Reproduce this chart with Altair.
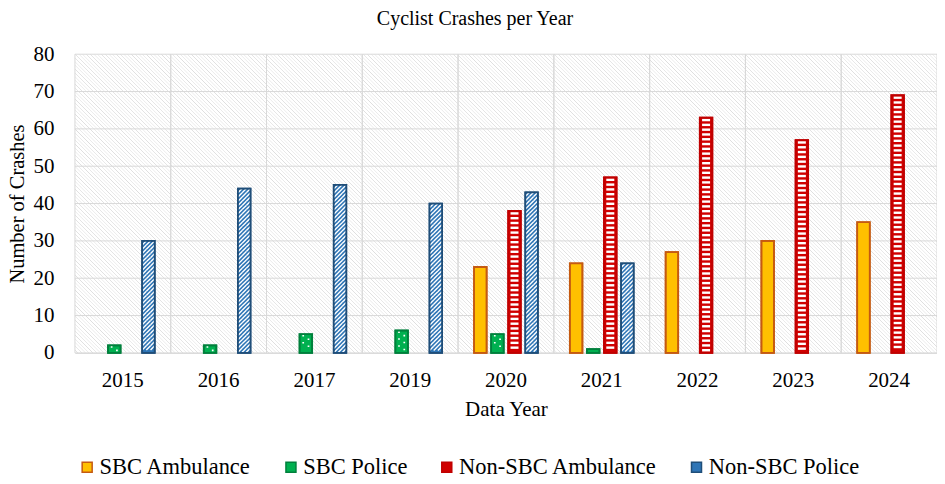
import math
import altair as alt
import pandas as pd

# ---------------- data ----------------
years = ["2015", "2016", "2017", "2019", "2020", "2021", "2022", "2023", "2024"]
sbc_ambulance = [None, None, None, None, 23, 24, 27, 30, 35]
sbc_police = [2, 2, 5, 6, 5, 1, None, None, None]
nonsbc_ambulance = [None, None, None, None, 38, 47, 63, 57, 69]
nonsbc_police = [30, 44, 45, 40, 43, 24, None, None, None]
series_names = ["SBC Ambulance", "SBC Police", "Non-SBC Ambulance", "Non-SBC Police"]
fill_colors = ["#FFC000", "#00B050", "#D00000", "#2E75B6"]
stroke_colors = ["#C55A11", "#00803C", "#C00000", "#1F4E79"]
y_ticks = [0, 10, 20, 30, 40, 50, 60, 70, 80]

rows = []
for name, vals in zip(series_names, [sbc_ambulance, sbc_police, nonsbc_ambulance, nonsbc_police]):
    for yr, v in zip(years, vals):
        if v is not None:
            rows.append({"year": yr, "series": name, "value": v})
df = pd.DataFrame(rows)

# ---------------- layout ----------------
W, H = 863, 299
YMAX = 80
PX = H / YMAX
COLW = W / len(years)
BW, STEP = 12.6, 17.1
PI = 1 - BW / STEP
PO = (COLW / STEP - 4 + PI) / 2
FONT = "Liberation Serif"
GRID = "#d9d9d9"

x_scale = alt.Scale(domain=years, paddingInner=0, paddingOuter=0)
off_scale = alt.Scale(domain=series_names, paddingInner=PI, paddingOuter=PO)
y_scale = alt.Scale(domain=[0, YMAX], nice=False)
fill_scale = alt.Scale(domain=series_names, range=fill_colors)
stroke_scale = alt.Scale(domain=series_names, range=stroke_colors)

x_axis = alt.Axis(labelAngle=0, ticks=False, grid=False, domainColor=GRID, domainWidth=1,
                  labelPadding=17, titlePadding=8)
y_axis = alt.Axis(values=y_ticks, ticks=False, grid=False, domain=False,
                  labelPadding=21, titlePadding=5, titleFontSize=20.5)


def X(**kw):
    return alt.X("year:N", scale=x_scale, axis=x_axis, title="Data Year", **kw)


def XO():
    return alt.XOffset("series:N", scale=off_scale)


def Y(field):
    return alt.Y(field, scale=y_scale, axis=y_axis, title="Number of Crashes")


# background hatch (light downward diagonal)
r = H / W
a = (1 + r) / (1 + r * r)
N = 310
stops = []
for k in range(N):
    stops.append({"offset": k / N, "color": "#ffffff"})
    stops.append({"offset": (k + 0.62) / N, "color": "#ffffff"})
    stops.append({"offset": (k + 0.81) / N, "color": "#dedede"})
stops.append({"offset": 1, "color": "#ffffff"})
grad = {"gradient": "linear", "x1": 0, "y1": 1, "x2": a, "y2": 1 - a * r, "stops": stops}

bg = alt.Chart(pd.DataFrame({"a": [0]})).mark_rect(fill=grad).encode(
    x=alt.value(0), x2=alt.value(W), y=alt.value(0), y2=alt.value(H))

hgrid = alt.Chart(pd.DataFrame({"tick": y_ticks})).mark_rule(color=GRID, strokeWidth=1).encode(
    y=Y("tick:Q"))
vgrid0 = alt.Chart(pd.DataFrame({"year": years})).mark_rule(color=GRID, strokeWidth=1).encode(
    x=X(bandPosition=0))
vgrid1 = alt.Chart(pd.DataFrame({"year": years})).mark_rule(color=GRID, strokeWidth=1).encode(
    x=X(bandPosition=1))

legend = alt.Legend(title=None, orient="none", legendX=1, legendY=402, direction="horizontal")

bars = alt.Chart(df).mark_bar(strokeWidth=1.6).encode(
    x=X(), xOffset=XO(), y=Y("value:Q"),
    fill=alt.Fill("series:N", scale=fill_scale, legend=legend),
    stroke=alt.Stroke("series:N", scale=stroke_scale, legend=legend),
)


def tiles(series, period_px, path, **mark_kw):
    T = period_px / PX
    return alt.Chart(df).transform_filter(alt.datum.series == series).transform_calculate(
        s=f"sequence(datum.value - {T / 2}, {T * 0.45}, {-T})"
    ).transform_flatten(["s"]).mark_point(shape=path, size=4, opacity=1, **mark_kw).encode(
        x=X(), xOffset=XO(), y=Y("s:Q"))


def diag_path(xr, h):
    segs = []
    kmin = int(math.floor((-xr - h / 2) / h)) - 1
    kmax = int(math.ceil((xr + h / 2) / h)) + 1
    for k in range(kmin, kmax + 1):
        c = k * h
        y0 = max(-h / 2, c - xr)
        y1 = min(h / 2, c + xr)
        if y1 - y0 > 0.01:
            segs.append(f"M{c - y0:.2f},{y0:.2f}L{c - y1:.2f},{y1:.2f}")
    return "".join(segs)


red_tiles = tiles("Non-SBC Ambulance", 4.8, "M-4,-1.2H4V1.2H-4Z",
                  filled=True, fill="white", strokeWidth=0)
green_tiles = tiles("SBC Police", 7.0, "M-3.5,-2.8h1.7v1.7h-1.7Z M1.8,0.7h1.7v1.7h-1.7Z",
                    filled=True, fill="white", strokeWidth=0)
blue_tiles = tiles("Non-SBC Police", 4.2, diag_path(BW / 2, 4.2),
                   filled=False, stroke="white", strokeWidth=1.4)

outline = alt.Chart(df).mark_bar(fillOpacity=0, strokeWidth=1.8).encode(
    x=X(), xOffset=XO(), y=Y("value:Q"),
    stroke=alt.Stroke("series:N", scale=stroke_scale, legend=None),
)

chart = alt.layer(bg, hgrid, vgrid0, vgrid1, bars, red_tiles, green_tiles, blue_tiles, outline).properties(
    width=W, height=H, background="white",
    autosize=alt.AutoSizeParams(type="none"),
    padding={"left": 67, "top": 46, "right": 0, "bottom": 128},
    title=alt.Title("Cyclist Crashes per Year", font=FONT, fontSize=20, fontWeight="normal",
                    color="#000000", anchor="middle", offset=14, dx=-31),
).configure_view(stroke=None).configure_axis(
    labelFont=FONT, titleFont=FONT, labelFontSize=21, titleFontSize=21,
    titleFontWeight="normal", labelColor="#000000", titleColor="#000000",
).configure_legend(
    labelFont=FONT, labelFontSize=22.5, labelColor="#000000", symbolType="square",
    symbolSize=100, symbolStrokeWidth=1.5, labelOffset=1, columnPadding=28, padding=0,
    labelLimit=400,
)

chart.save("out.html", embed_options={"renderer": "svg", "actions": False})
